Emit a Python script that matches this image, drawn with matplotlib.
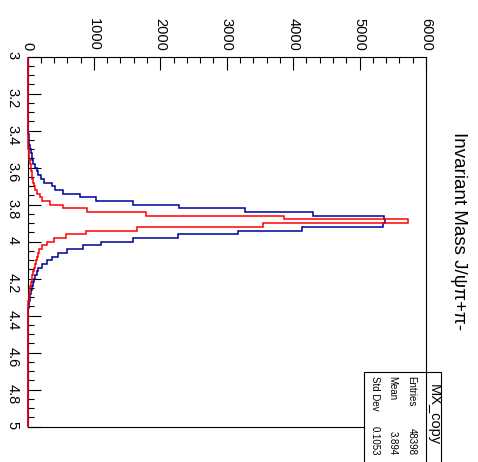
import matplotlib
matplotlib.use("Agg")
import matplotlib.pyplot as plt
import numpy as np
from matplotlib.patches import Rectangle
from matplotlib.lines import Line2D

plt.rcParams['font.family'] = ['Liberation Sans', 'DejaVu Sans']

# histogram: 100 bins of 0.02 GeV between 3 and 5
edges = np.linspace(3.0, 5.0, 101)

# blue histogram, counts per bin starting at 3.36
blue_start = 3.36
blue_vals = [3, 5, 15, 20, 27, 28, 38, 53, 63, 73, 88, 113, 138, 163, 200,
             253, 364, 414, 540, 790, 1032, 1594, 2286, 3276, 4305, 5374,
             5380, 5359, 4129, 3175, 2271, 1594, 1107, 841, 590, 455, 364,
             289, 213, 163, 138, 113, 93, 83, 63, 53, 45, 35, 27, 20, 12, 8,
             6, 4, 3]

# red histogram, counts per bin starting at 3.42
red_start = 3.42
red_vals = [3, 5, 8, 13, 18, 23, 28, 38, 48, 53, 63, 73, 83, 98, 113, 138,
            188, 213, 339, 540, 891, 1785, 3868, 5726, 3542, 1644, 881, 575,
            404, 289, 213, 178, 153, 138, 123, 108, 93, 83, 73, 63, 53, 43,
            35, 28, 20, 15, 10, 6, 3]

count_ticks = [0, 1000, 2000, 3000, 4000, 5000, 6000]
mass_ticks = [3, 3.2, 3.4, 3.6, 3.8, 4, 4.2, 4.4, 4.6, 4.8, 5]
mass_labels = ['3', '3.2', '3.4', '3.6', '3.8', '4', '4.2', '4.4', '4.6', '4.8', '5']

title = 'Invariant Mass J/\u03c8\u03c0+\u03c0-'
stats_name = 'MX_copy'
stats_rows = [('Entries', '48398'), ('Mean', '3.894'), ('Std Dev', '0.1053')]


def full(start, vals):
    out = np.zeros(len(edges) - 1)
    i0 = int(round((start - 3.0) / 0.02))
    out[i0:i0 + len(vals)] = vals
    return out


W, H = 478, 462


def fx(px):
    return px / W


def fy(py):
    return 1 - py / H


fig = plt.figure(figsize=(W / 100, H / 100), dpi=100)
ax = fig.add_axes([fx(27.5), fy(426.7), (426 - 27.5) / W, (426.7 - 56.7) / H])

ax.stairs(full(blue_start, blue_vals), edges, orientation='horizontal',
          color='#000099', lw=1.1, zorder=3, clip_on=False)
ax.stairs(full(red_start, red_vals), edges, orientation='horizontal',
          color='#ff0000', lw=1.1, zorder=4, clip_on=False)

ax.set_xlim(0, 6000)
ax.set_ylim(5, 3)

ax.xaxis.tick_top()
ax.set_xticks(count_ticks)
ax.set_xticklabels([str(c) for c in count_ticks], rotation=-90)
ax.set_xticks(np.arange(0, 6001, 200), minor=True)
ax.set_yticks(mass_ticks)
ax.set_yticklabels(mass_labels, rotation=-90)
ax.set_yticks(np.arange(3, 5.001, 0.05), minor=True)

ax.tick_params(which='both', direction='in', width=0.8, labelsize=10.5,
               top=True, bottom=False, left=True, right=False)
ax.tick_params(which='major', length=9)
ax.tick_params(which='minor', length=4.5)
ax.tick_params(axis='x', pad=4.5)
ax.tick_params(axis='y', pad=5.5)
for s in ax.spines.values():
    s.set_linewidth(0.8)

fig.text(fx(459), fy(231), title, rotation=-90, ha='center', va='center',
         fontsize=13.5)

# stats box
box = Rectangle((fx(364), fy(475)), (441 - 364) / W, (475 - 372) / H,
                transform=fig.transFigure, facecolor='white',
                edgecolor='black', lw=0.8)
fig.add_artist(box)
fig.add_artist(Line2D([fx(426), fx(426)], [fy(372), fy(475)],
                      transform=fig.transFigure, color='black', lw=0.8))
fig.text(fx(433.5), fy(415), stats_name, rotation=-90, ha='center',
         va='center', fontsize=10.5)
row_x = [411.5, 392.5, 375]
for (name, val), px in zip(stats_rows, row_x):
    fig.text(fx(px), fy(376), name, rotation=-90, ha='center', va='top',
             fontsize=7)
    fig.text(fx(px), fy(455), val, rotation=-90, ha='center', va='bottom',
             fontsize=7)

fig.savefig('out.png', dpi=100)
